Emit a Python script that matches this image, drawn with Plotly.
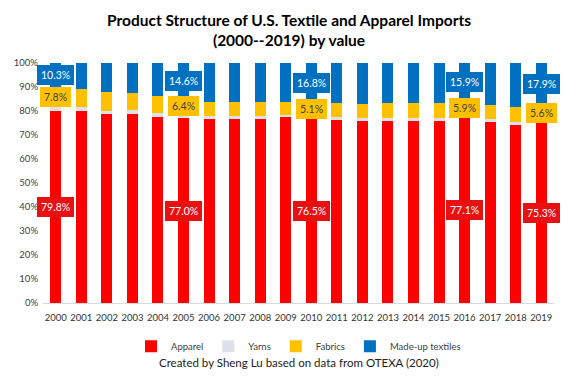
import plotly.graph_objects as go

years = list(range(2000, 2020))
apparel = [79.8, 80.0, 78.6, 78.6, 77.4, 77.0, 76.5, 76.5, 76.6, 77.4,
           76.5, 76.4, 76.0, 76.0, 76.0, 76.0, 77.1, 75.6, 74.2, 75.3]
yarns = [2.1, 1.8, 1.5, 1.7, 1.6, 2.0, 1.4, 1.4, 1.3, 0.9,
         1.6, 1.3, 1.2, 1.2, 1.2, 1.2, 1.1, 1.1, 1.4, 1.2]
fabrics = [7.8, 7.4, 8.0, 7.1, 7.3, 6.4, 5.7, 5.7, 5.7, 5.3,
           5.1, 5.5, 5.7, 6.0, 6.0, 6.0, 5.9, 5.8, 5.9, 5.6]
madeup = [10.3, 10.8, 11.9, 12.6, 13.7, 14.6, 16.4, 16.4, 16.4, 16.4,
          16.8, 16.8, 17.1, 16.8, 16.8, 16.8, 15.9, 17.5, 18.5, 17.9]
labeled_years = [2000, 2005, 2010, 2016, 2019]
y_ticks = list(range(0, 101, 10))

series = [
    ("Apparel", apparel, "#FF0000"),
    ("Yarns", yarns, "#DDE2EA"),
    ("Fabrics", fabrics, "#FFC000"),
    ("Made-up textiles", madeup, "#0070C0"),
]

FONT = "Lato, 'Open Sans', sans-serif"
fig = go.Figure()
for name, vals, col in series:
    fig.add_trace(go.Bar(x=years, y=vals, name=name, marker_color=col,
                         marker_line_width=0, width=0.43))

# label boxes
label_styles = {
    "Apparel": ("#E81010", "white"),
    "Fabrics": ("#FFC000", "#404040"),
    "Made-up textiles": ("#0070C0", "white"),
}
for i, yr in enumerate(years):
    if yr not in labeled_years:
        continue
    base = 0.0
    for name, vals, col in series:
        v = vals[i]
        if name in label_styles:
            bg, fc = label_styles[name]
            fig.add_annotation(x=yr, y=base + v / 2, text=f"{v:.1f}%",
                               showarrow=False, bgcolor=bg,
                               bordercolor=bg, borderpad=3,
                               font=dict(family=FONT, size=10.5, color=fc))
        base += v

fig.add_annotation(x=0.5, y=-0.283, xref="paper", yref="paper",
                   text="Created by Sheng Lu based on data from OTEXA (2020)",
                   showarrow=False, font=dict(family=FONT, size=11.5, color="#222"))

fig.update_layout(
    barmode="stack",
    width=578, height=385,
    margin=dict(l=43, r=24, t=63, b=82),
    paper_bgcolor="white", plot_bgcolor="white",
    title=dict(text="<b>Product Structure of U.S. Textile and Apparel Imports<br>(2000--2019) by value</b>",
               x=0.5, xanchor="center", y=0.932, yanchor="top",
               font=dict(family=FONT, size=15.5, color="black")),
    legend=dict(orientation="h", x=0.5, xanchor="center", y=-0.18, yanchor="middle",
                font=dict(family=FONT, size=9.5, color="#404040"),
                itemwidth=30, traceorder="normal"),
    showlegend=True,
)
fig.update_xaxes(range=[years[0] - 0.5, years[-1] + 0.5], tickvals=years,
                 ticktext=[str(y) for y in years], automargin=False,
                 showline=True, linecolor="#D9D9D9", ticks="", showgrid=False,
                 zeroline=False, ticklabelstandoff=6,
                 tickfont=dict(family=FONT, size=9.5, color="#333333"))
fig.update_yaxes(range=[0, 100], tickvals=y_ticks, automargin=False,
                 ticktext=[f"{t}%" for t in y_ticks], showgrid=False,
                 zeroline=False, ticklabelstandoff=4,
                 tickfont=dict(family=FONT, size=9.5, color="#404040"))

fig.write_html("out.html", config={"displayModeBar": False},
               post_script="document.body.style.margin='0';")
